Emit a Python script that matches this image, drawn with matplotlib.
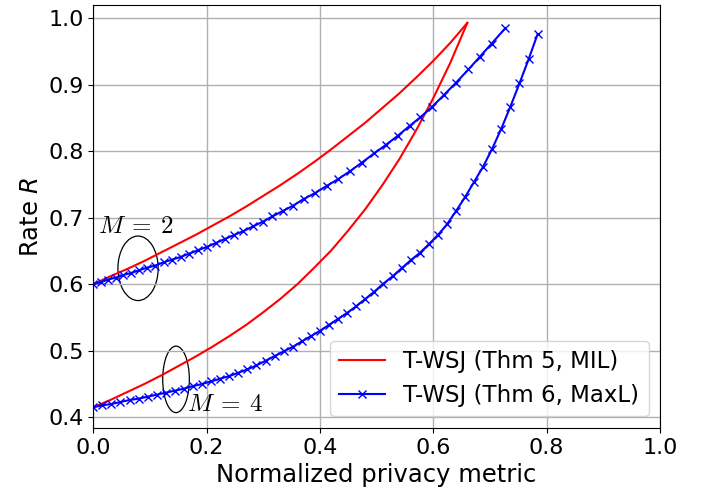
import matplotlib
matplotlib.use("Agg")
import matplotlib.pyplot as plt
from matplotlib.patches import Ellipse

# T-WSJ (Thm 5, MIL), M = 2
mil_m2_x = [0.00, 0.03, 0.06, 0.09, 0.12, 0.15, 0.18, 0.21, 0.24, 0.27,
            0.30, 0.33, 0.36, 0.39, 0.42, 0.45, 0.48, 0.51, 0.54, 0.57,
            0.60, 0.63, 0.66]
mil_m2_y = [0.600, 0.612, 0.623, 0.635, 0.648, 0.661, 0.674, 0.688, 0.702,
            0.717, 0.733, 0.749, 0.766, 0.784, 0.803, 0.823, 0.843, 0.865,
            0.887, 0.911, 0.936, 0.963, 0.993]

# T-WSJ (Thm 5, MIL), M = 4
mil_m4_x = [0.00, 0.03, 0.06, 0.09, 0.12, 0.15, 0.18, 0.21, 0.24, 0.27,
            0.30, 0.33, 0.36, 0.39, 0.42, 0.45, 0.48, 0.51, 0.54, 0.57,
            0.60, 0.63, 0.66]
mil_m4_y = [0.415, 0.426, 0.438, 0.450, 0.463, 0.477, 0.491, 0.506, 0.522,
            0.539, 0.558, 0.578, 0.600, 0.625, 0.651, 0.681, 0.713, 0.749,
            0.788, 0.832, 0.880, 0.933, 0.993]

# T-WSJ (Thm 6, MaxL), M = 2
maxl_m2_x = [0.000, 0.013, 0.026, 0.040, 0.053, 0.067, 0.081, 0.095, 0.109,
             0.124, 0.139, 0.154, 0.169, 0.184, 0.200, 0.216, 0.232, 0.248,
             0.265, 0.282, 0.299, 0.316, 0.334, 0.352, 0.371, 0.391, 0.412,
             0.432, 0.453, 0.474, 0.496, 0.517, 0.537, 0.558, 0.577, 0.597,
             0.618, 0.640, 0.662, 0.682, 0.703, 0.727]
maxl_m2_y = [0.600, 0.603, 0.607, 0.610, 0.614, 0.617, 0.621, 0.625, 0.628,
             0.633, 0.637, 0.641, 0.646, 0.651, 0.656, 0.662, 0.668, 0.674,
             0.680, 0.687, 0.694, 0.702, 0.710, 0.718, 0.728, 0.737, 0.748,
             0.758, 0.770, 0.783, 0.797, 0.810, 0.823, 0.838, 0.851, 0.866,
             0.884, 0.903, 0.923, 0.942, 0.962, 0.985]

# T-WSJ (Thm 6, MaxL), M = 4
maxl_m4_x = [0.000, 0.016, 0.032, 0.048, 0.064, 0.080, 0.096, 0.112, 0.128,
             0.144, 0.160, 0.176, 0.192, 0.208, 0.224, 0.240, 0.256, 0.272,
             0.288, 0.304, 0.320, 0.336, 0.352, 0.368, 0.384, 0.400, 0.416,
             0.432, 0.448, 0.464, 0.480, 0.496, 0.512, 0.528, 0.544, 0.560,
             0.576, 0.592, 0.608, 0.624, 0.640, 0.656, 0.672, 0.688, 0.704,
             0.720, 0.736, 0.752, 0.768, 0.784]
maxl_m4_y = [0.415, 0.418, 0.420, 0.423, 0.426, 0.428, 0.431, 0.434, 0.437,
             0.440, 0.443, 0.447, 0.450, 0.454, 0.458, 0.462, 0.467, 0.472,
             0.478, 0.485, 0.492, 0.499, 0.506, 0.514, 0.522, 0.530, 0.539,
             0.548, 0.557, 0.567, 0.578, 0.589, 0.601, 0.612, 0.624, 0.636,
             0.647, 0.660, 0.674, 0.690, 0.710, 0.731, 0.754, 0.777, 0.804,
             0.834, 0.867, 0.902, 0.938, 0.976]

fig = plt.figure(figsize=(7.04, 4.93), dpi=100)
ax = fig.add_axes([0.1325, 0.132, 0.805, 0.858])

ax.plot(mil_m2_x, mil_m2_y, color='red', lw=1.5, label='T-WSJ (Thm 5, MIL)')
ax.plot(mil_m4_x, mil_m4_y, color='red', lw=1.5)
ax.plot(maxl_m2_x, maxl_m2_y, color='blue', lw=1.5, marker='x', ms=6,
        label='T-WSJ (Thm 6, MaxL)')
ax.plot(maxl_m4_x, maxl_m4_y, color='blue', lw=1.5, marker='x', ms=6)

# ellipses marking the two groups
ax.add_patch(Ellipse((0.079, 0.624), 0.071, 0.097, fill=False,
                     edgecolor='black', lw=0.9))
ax.add_patch(Ellipse((0.146, 0.457), 0.047, 0.100, fill=False,
                     edgecolor='black', lw=0.9))
ax.text(0.008, 0.677, r'$M\:=\:2$', fontsize=18, math_fontfamily='cm')
ax.text(0.165, 0.409, r'$M\:=\:4$', fontsize=18, math_fontfamily='cm')

ax.set_xlim(0, 1)
ax.set_ylim(0.384, 1.02)
ax.set_xticks([0.0, 0.2, 0.4, 0.6, 0.8, 1.0])
ax.set_yticks([0.4, 0.5, 0.6, 0.7, 0.8, 0.9, 1.0])
ax.tick_params(labelsize=16)
ax.set_xlabel('Normalized privacy metric', fontsize=17.5)
ax.set_ylabel('Rate $R$', fontsize=17.5)
ax.grid(True, lw=1)
ax.legend(loc='lower right', fontsize=16.5)

fig.savefig('out.png', dpi=100)
